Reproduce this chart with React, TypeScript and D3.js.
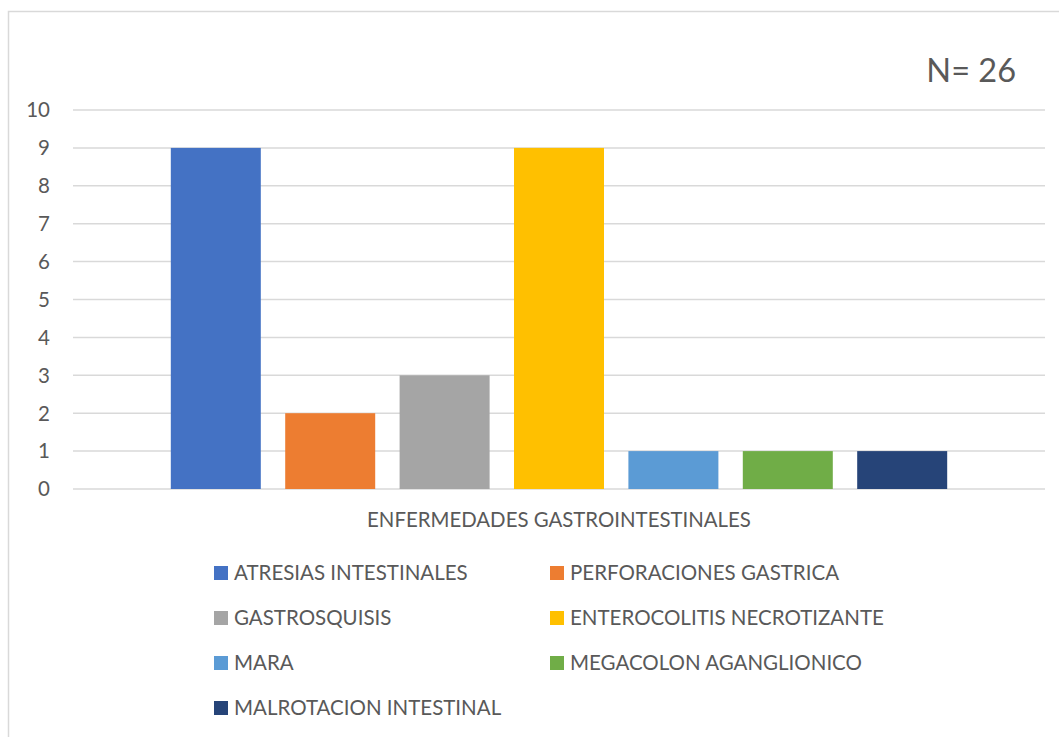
import React from "react";
import * as d3 from "d3";

const categories = [
  "ATRESIAS INTESTINALES",
  "PERFORACIONES GASTRICA",
  "GASTROSQUISIS",
  "ENTEROCOLITIS NECROTIZANTE",
  "MARA",
  "MEGACOLON AGANGLIONICO",
  "MALROTACION INTESTINAL",
];
const values = [9, 2, 3, 9, 1, 1, 1];
const colors = ["#4472C4", "#ED7D31", "#A5A5A5", "#FFC000", "#5B9BD5", "#70AD47", "#264478"];
const yTicks = [0, 1, 2, 3, 4, 5, 6, 7, 8, 9, 10];
const axisTitle = "ENFERMEDADES GASTROINTESTINALES";
const nLabel = "N= 26";

const W = 1059;
const H = 737;
const FONT = "Lato, 'Noto Sans', sans-serif";
const TEXT = "#595959";

export default function App() {
  const plot = { left: 73, right: 1045, top: 110, bottom: 489 };
  const x = d3
    .scaleBand<string>()
    .domain(categories)
    .range([plot.left, plot.right])
    .paddingInner(0.2133)
    .paddingOuter(0.855);
  const y = d3.scaleLinear().domain([0, 10]).range([plot.bottom, plot.top]);

  const legendCols = [214, 550];
  const legendRow0 = 573;
  const legendRowStep = 45;

  return (
    <svg
      width={W}
      height={H}
      style={{ position: "absolute", left: 0, top: 0, overflow: "hidden", background: "#fff" }}
      fontFamily={FONT}
    >
      <rect x={0} y={0} width={W} height={H} fill="#fff" />
      <rect x={8.5} y={11.5} width={1200} height={900} fill="none" stroke="#d9d9d9" strokeWidth={1.5} />

      <text x={1016} y={82} textAnchor="end" fontSize={32.5} fill={TEXT}>
        {nLabel}
      </text>

      {yTicks.map((t) => (
        <g key={t}>
          <line x1={plot.left} x2={plot.right} y1={y(t)} y2={y(t)} stroke="#d9d9d9" strokeWidth={1.5} />
          <text x={50} y={y(t)} dy="0.36em" textAnchor="end" fontSize={20.5} fill={TEXT}>
            {t}
          </text>
        </g>
      ))}

      {categories.map((c, i) => (
        <rect
          key={c}
          x={x(c)}
          y={y(values[i])}
          width={x.bandwidth()}
          height={y(0) - y(values[i])}
          fill={colors[i]}
        />
      ))}

      <text x={(plot.left + plot.right) / 2} y={527} textAnchor="middle" fontSize={20.4} fill={TEXT}>
        {axisTitle}
      </text>

      {categories.map((c, i) => {
        const col = i % 2;
        const row = Math.floor(i / 2);
        const lx = legendCols[col];
        const ly = legendRow0 + row * legendRowStep;
        return (
          <g key={"lg" + c}>
            <rect x={lx} y={ly - 7} width={14} height={14} fill={colors[i]} />
            <text x={lx + 20} y={ly + 7} fontSize={20.5} fill={TEXT}>
              {c}
            </text>
          </g>
        );
      })}
    </svg>
  );
}
